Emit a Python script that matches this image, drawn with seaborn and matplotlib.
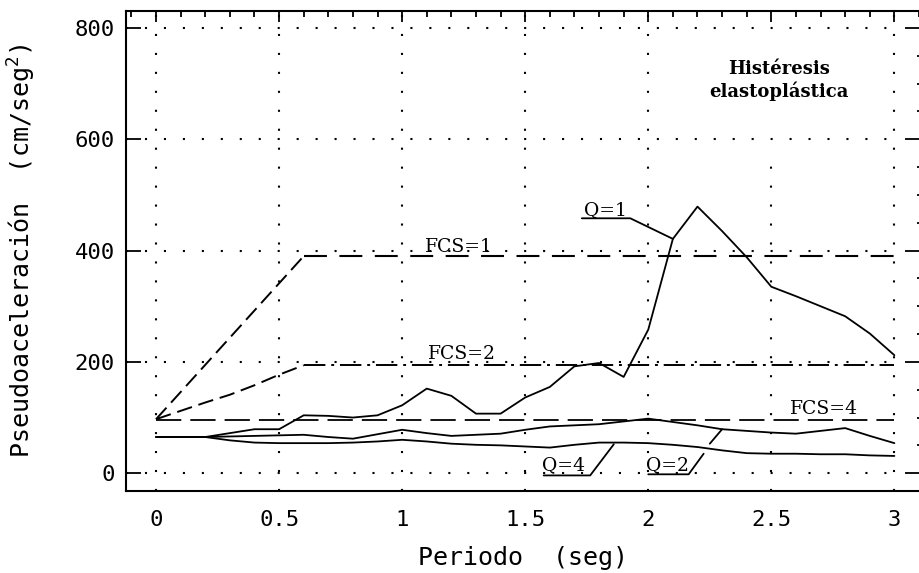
import numpy as np
import pandas as pd
import matplotlib
matplotlib.use("Agg")
import matplotlib.pyplot as plt
import seaborn as sns
from matplotlib.ticker import MultipleLocator, FixedLocator, FixedFormatter

# ---------------- data ----------------
periods = [0.0, 0.1, 0.2, 0.3, 0.4, 0.5, 0.6, 0.7, 0.8, 0.9, 1.0,
           1.1, 1.2, 1.3, 1.4, 1.5, 1.6, 1.7, 1.8, 1.9, 2.0,
           2.1, 2.2, 2.3, 2.4, 2.5, 2.6, 2.7, 2.8, 2.9, 3.0]
q1 = [65, 65, 65, 72, 79, 79, 104, 103, 100, 104, 122,
      152, 139, 107, 107, 136, 155, 192, 198, 173, 258,
      421, 479, 435, 388, 335, 318, 300, 282, 251, 212]
q2 = [65, 65, 65, 66, 67, 68, 69, 65, 62, 70, 78,
      72, 67, 69, 71, 78, 84, 86, 88, 93, 98,
      92, 86, 79, 76, 73, 71, 76, 81, 67, 54]
q4 = [65, 65, 65, 59, 55, 54, 54, 54, 55, 57, 60,
      57, 53, 51, 50, 48, 46, 51, 55, 55, 54,
      51, 47, 41, 36, 35, 35, 34, 34, 32, 31]

fcs1_ramp_x = [0.0, 0.6]
fcs1_ramp_y = [97, 390]
fcs1_flat_x = [0.6, 3.0]
fcs1_flat_y = [390, 390]
fcs2_ramp_x = [0.0, 0.1, 0.2, 0.3, 0.4, 0.5, 0.6]
fcs2_ramp_y = [97, 112, 127, 141, 158, 177, 194]
fcs2_flat_x = [0.6, 3.0]
fcs2_flat_y = [194, 194]
fcs4_x = [0.0, 3.0]
fcs4_y = [95, 95]

x_ticks = [0, 0.5, 1, 1.5, 2, 2.5, 3]
x_tick_labels = ["0", "0.5", "1", "1.5", "2", "2.5", "3"]
y_ticks = [0, 200, 400, 600, 800]
y_tick_labels = ["0", "200", "400", "600", "800"]

xlabel = "Periodo  (seg)"
ylabel = "Pseudoaceleración  (cm/seg$^2$)"
note = "Histéresis\nelastoplástica"

# labels: text, x, y(baseline)
curve_labels = [("FCS=1", 1.23, 397), ("FCS=2", 1.243, 205), ("FCS=4", 2.715, 106),
                ("Q=1", 1.825, 463), ("Q=4", 1.655, 6), ("Q=2", 2.08, 6)]
leaders = [
    ([1.73, 1.927, 2.10], [458, 458, 421]),
    ([1.575, 1.764, 1.86], [-4, -4, 52]),
    ([2.0, 2.164, 2.225], [-2, -2, 35]),
    ([2.25, 2.30], [53, 79]),
]

# ---------------- style ----------------
sns.set_theme(style="white")
plt.rcParams['font.family'] = ['DejaVu Sans Mono', 'DejaVu Sans']
plt.rcParams['mathtext.fontset'] = 'custom'
plt.rcParams['mathtext.rm'] = 'DejaVu Sans Mono'
plt.rcParams['mathtext.it'] = 'DejaVu Sans Mono'

fig = plt.figure(figsize=(9.19, 5.73), dpi=100)
ax = fig.add_axes([126 / 919, 1 - 491 / 573, (919 - 126) / 919, (491 - 10.7) / 573])
ax.set_xlim(-0.122, 3.10)
ax.set_ylim(-32, 831)

df = pd.DataFrame({"T": periods, "Q1": q1, "Q2": q2, "Q4": q4})
for col in ["Q1", "Q2", "Q4"]:
    sns.lineplot(data=df, x="T", y=col, ax=ax, color="black", linewidth=1.3,
                 estimator=None, sort=False, zorder=3)

dash_ramp = (0, (8, 3.5))
sns.lineplot(x=fcs1_ramp_x, y=fcs1_ramp_y, ax=ax, color="black", linewidth=1.4,
             linestyle=dash_ramp, estimator=None, sort=False, zorder=3)
sns.lineplot(x=fcs1_flat_x, y=fcs1_flat_y, ax=ax, color="black", linewidth=1.5,
             linestyle=(0, (11, 6)), estimator=None, sort=False, zorder=3)
sns.lineplot(x=fcs2_ramp_x, y=fcs2_ramp_y, ax=ax, color="black", linewidth=1.4,
             linestyle=dash_ramp, estimator=None, sort=False, zorder=3)
sns.lineplot(x=fcs2_flat_x, y=fcs2_flat_y, ax=ax, color="black", linewidth=1.4,
             linestyle=(0, (11, 3, 1.5, 3)), estimator=None, sort=False, zorder=3)
sns.lineplot(x=fcs4_x, y=fcs4_y, ax=ax, color="black", linewidth=1.3,
             linestyle=(0, (14, 5)), estimator=None, sort=False, zorder=3)

for lx, ly in leaders:
    ax.plot(lx, ly, color="black", linewidth=1.3, zorder=3)

for txt, tx, ty in curve_labels:
    ax.text(tx, ty, txt, ha="center", va="baseline", fontsize=13.5,
            family=["DejaVu Serif"], color="black", zorder=4)

ax.text(2.53, 706, note, ha="center", va="center", fontsize=13, fontweight="bold",
        family=["DejaVu Serif"], linespacing=1.25, color="black", zorder=4)

# grid (dotted)
grid_ls = (0, (1, 8.1))
ax.grid(False)
x0, x1 = ax.get_xlim()
y0, y1 = ax.get_ylim()
right_frac = (3.01 - x0) / (x1 - x0)
for yv in y_ticks:
    ax.axhline(yv, xmax=right_frac, color="black", linewidth=1.5, linestyle=grid_ls, zorder=1)
for xv in x_ticks:
    top = 1.0 if xv != 2.5 else (570 - y0) / (y1 - y0)
    ax.axvline(xv, ymax=top, color="black", linewidth=1.5, linestyle=grid_ls, zorder=1)

# ticks
ax.xaxis.set_major_locator(FixedLocator(x_ticks))
ax.xaxis.set_major_formatter(FixedFormatter(x_tick_labels))
ax.xaxis.set_minor_locator(MultipleLocator(0.1))
ax.yaxis.set_major_locator(FixedLocator(y_ticks))
ax.yaxis.set_major_formatter(FixedFormatter(y_tick_labels))
ax.yaxis.set_minor_locator(MultipleLocator(50))
ax.tick_params(which="both", direction="in", top=True, right=True, color="black",
               width=1.3, labelsize=16, labelcolor="black")
ax.tick_params(axis="x", which="major", length=8, pad=14)
ax.tick_params(axis="x", which="minor", length=4)
ax.tick_params(axis="y", which="major", length=11, pad=8)
ax.tick_params(axis="y", which="minor", length=5)
ax.tick_params(axis="y", which="major", right=True, left=True)
for t in ax.yaxis.get_major_ticks():
    t.tick2line.set_markersize(10)
for t in ax.yaxis.get_minor_ticks():
    t.tick2line.set_markersize(1.5)

for side in ["left", "bottom", "top"]:
    ax.spines[side].set_color("black")
    ax.spines[side].set_linewidth(1.5)
ax.spines["right"].set_visible(False)

ax.set_xlabel(xlabel, fontsize=18, color="black")
ax.set_ylabel(ylabel, fontsize=18, color="black")
ax.xaxis.label.set_va("center")
ax.yaxis.label.set_va("center")
ax.xaxis.set_label_coords(0.5, -0.1395)
ax.yaxis.set_label_coords(-0.131, 0.5)

fig.savefig("out.png", dpi=100, facecolor="white")
